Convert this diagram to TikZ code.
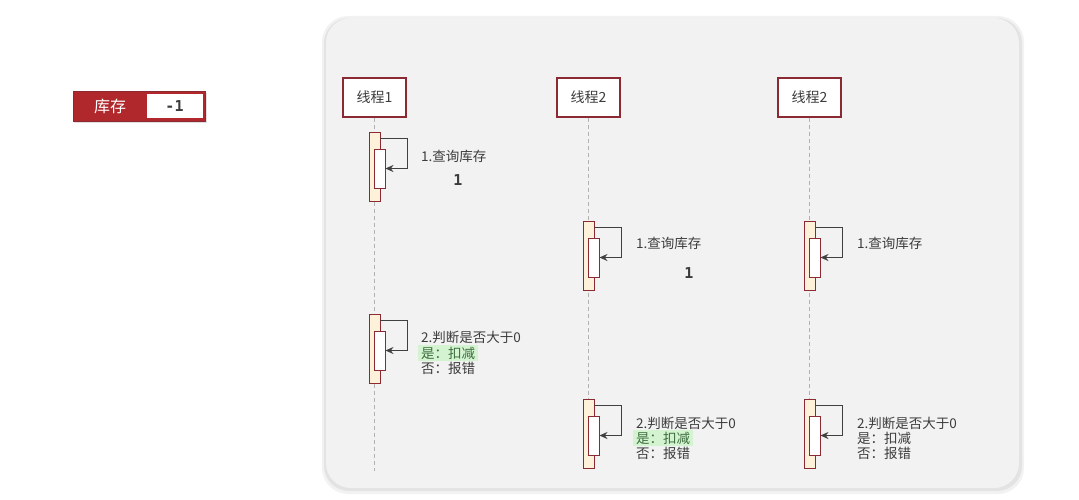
\documentclass[tikz,border=0pt]{standalone}
\usepackage{fontspec}
\setmainfont{Noto Sans CJK SC}
\newfontfamily\cifre{DejaVu Sans Mono}
\usetikzlibrary{arrows.meta}
\definecolor{bordo}{HTML}{8C2A34}
\definecolor{rosso}{HTML}{B0272C}
\definecolor{pannello}{HTML}{F2F2F2}
\definecolor{giallino}{HTML}{FDF1D9}
\definecolor{testo}{HTML}{3C3C3C}
\definecolor{verdino}{HTML}{D3F3D1}
\definecolor{verde}{HTML}{3E6E3E}
\begin{document}
\begin{tikzpicture}[x=1pt,y=-1pt,
  thread/.style={draw=bordo, line width=1.1pt, fill=white, minimum width=63pt, minimum height=39pt, inner sep=0pt, text=testo, font=\fontsize{14}{16}\selectfont},
  vita/.style={draw=black!30, dash pattern=on 4pt off 3pt, line width=0.6pt},
  attiva/.style={draw=bordo, line width=0.9pt, fill=giallino, minimum width=11pt, minimum height=69pt, inner sep=0pt},
  interna/.style={draw=bordo, line width=0.9pt, fill=white, minimum width=11pt, minimum height=39pt, inner sep=0pt},
  freccia/.style={draw=black!75, line width=1.3pt, -{Stealth[length=8pt,width=7pt]}},
  etichetta/.style={anchor=west, inner sep=0pt, text=testo, font=\fontsize{13.5}{15}\selectfont},
  evidenza/.style={anchor=west, inner xsep=3pt, inner ysep=2pt, fill=verdino, text=verde, font=\fontsize{13.5}{15}\selectfont},
  valore/.style={text=testo, font=\cifre\bfseries\fontsize{15}{17}\selectfont}]
\useasboundingbox[fill=white] (0,0) rectangle (1079,500);
% pannello con ombra
\fill[black, opacity=0.05, rounded corners=26pt] (322,16) rectangle (1024,494);
\fill[black, opacity=0.06, rounded corners=25pt] (324,18) rectangle (1022,491);
\fill[pannello, rounded corners=25pt] (326,18) rectangle (1019,488);
% scorta
\fill[black, opacity=0.12] (74,93) rectangle (207,123);
\node[draw=bordo, fill=rosso, line width=0.8pt, minimum width=132pt, minimum height=30pt] (scorta) at (139,106) {};
\node[fill=white, minimum width=56pt, minimum height=24pt, inner sep=0pt, valore] (valscorta) at (174.5,106) {-1};
\node[text=white, font=\fontsize{16}{18}\selectfont] (lblscorta) at (110,106) {库存};
% thread
\node[thread] (t1) at (374.5,97.5) {线程1};
\node[thread] (t2) at (588.5,97.5) {线程2};
\node[thread] (t3) at (809.5,97.5) {线程2};
\coordinate (f1) at (374.5,471);
\coordinate (f2) at (588.5,468);
\coordinate (f3) at (809.5,468);
\draw[vita] (t1) -- (f1);
\draw[vita] (t2) -- (f2);
\draw[vita] (t3) -- (f3);
% thread 1
\node[attiva] (a1) at (374.5,166.5) {};
\node[interna] (a1in) at (379.5,168.5) {};
\draw[freccia] ([yshift=-7pt]a1.north east) -- ++(27,0) |- (a1in.east);
\node[etichetta] (q1) at (421,156) {1.查询库存};
\node[valore] (v1) at (458,180) {1};
\node[attiva] (b1) at (374.5,348.5) {};
\node[interna] (b1in) at (379.5,350.5) {};
\draw[freccia] ([yshift=-7pt]b1.north east) -- ++(27,0) |- (b1in.east);
\node[etichetta] (g1) at (421,337) {2.判断是否大于0};
\node[evidenza] (s1) at (418,353) {是：扣减};
\node[etichetta] (n1) at (421,368) {否：报错};
% thread 2
\node[attiva] (a2) at (588.5,255.5) {};
\node[interna] (a2in) at (593.5,257.5) {};
\draw[freccia] ([yshift=-7pt]a2.north east) -- ++(27,0) |- (a2in.east);
\node[etichetta] (q2) at (636,243) {1.查询库存};
\node[valore] (v2) at (689,273) {1};
\node[attiva] (b2) at (588.5,433.5) {};
\node[interna] (b2in) at (593.5,435.5) {};
\draw[freccia] ([yshift=-7pt]b2.north east) -- ++(27,0) |- (b2in.east);
\node[etichetta] (g2) at (636,423) {2.判断是否大于0};
\node[evidenza] (s2) at (633,438) {是：扣减};
\node[etichetta] (n2) at (636,453) {否：报错};
% thread 3
\node[attiva] (a3) at (809.5,255.5) {};
\node[interna] (a3in) at (814.5,257.5) {};
\draw[freccia] ([yshift=-7pt]a3.north east) -- ++(27,0) |- (a3in.east);
\node[etichetta] (q3) at (857,243) {1.查询库存};
\node[attiva] (b3) at (809.5,433.5) {};
\node[interna] (b3in) at (814.5,435.5) {};
\draw[freccia] ([yshift=-7pt]b3.north east) -- ++(27,0) |- (b3in.east);
\node[etichetta] (g3) at (857,423) {2.判断是否大于0};
\node[etichetta] (s3) at (857,438) {是：扣减};
\node[etichetta] (n3) at (857,453) {否：报错};
\end{tikzpicture}
\end{document}
